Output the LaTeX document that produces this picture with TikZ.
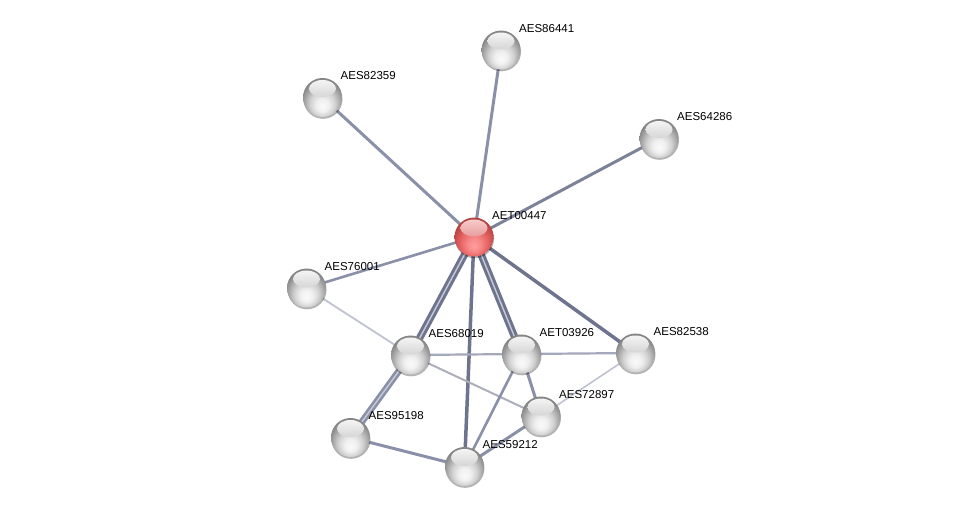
\documentclass[tikz,border=0pt]{standalone}
\usepackage{fontspec}
\setmainfont{Liberation Sans}
\usetikzlibrary{backgrounds,shadows,calc}
\definecolor{edark}{HTML}{6E748E}
\definecolor{emid}{HTML}{8A90A8}
\definecolor{elight}{HTML}{A3A8BA}
\definecolor{efaint}{HTML}{BFC2CF}
\definecolor{gband}{HTML}{A9A9A9}
\definecolor{rband}{HTML}{CC6064}
\pgfdeclareradialshading{stringgrey}{\pgfpoint{0bp}{-12bp}}{%
  color(0bp)=(white!98!black); color(8bp)=(white!94!black); color(16bp)=(white!82!black);
  color(24bp)=(white!62!black); color(28bp)=(white!52!black); color(50bp)=(white!52!black)}
\pgfdeclareradialshading{stringred}{\pgfpoint{0bp}{-12bp}}{%
  color(0bp)=(red!38!white); color(8bp)=(red!44!white!97!black); color(16bp)=(red!55!white!92!black);
  color(24bp)=(red!62!white!80!black); color(28bp)=(red!62!white!70!black); color(50bp)=(red!62!white!70!black)}
\tikzset{
  ball/.style={circle, minimum size=39pt, inner sep=0pt, shading=stringgrey,
    drop shadow={shadow xshift=0.5pt, shadow yshift=-1.8pt, opacity=0.3, fill=black},
    path picture={\shade[top color=white, bottom color=gband, opacity=0.95]
      ($(path picture bounding box.center)+(0,-9)$) ellipse (13.5pt and 8.5pt);}},
  redball/.style={circle, minimum size=39pt, inner sep=0pt, shading=stringred,
    drop shadow={shadow xshift=0.5pt, shadow yshift=-1.8pt, opacity=0.3, fill=black},
    path picture={\shade[top color=red!15!white, bottom color=rband, opacity=0.95]
      ($(path picture bounding box.center)+(0,-9)$) ellipse (13.5pt and 8.5pt);}},
  lbl/.style={anchor=west, inner sep=0pt, font=\fontsize{11.5pt}{13pt}\selectfont, text=black},
  ed/.style={line width=#1, line cap=round},
}
\begin{document}
\begin{tikzpicture}[x=1pt,y=-1pt]
\useasboundingbox (0,0) rectangle (976,511);
% nodes
\node[redball] (c) at (474,237) {};
\node[ball] (n86441) at (501,50) {};
\node[ball] (n82359) at (322.5,97.5) {};
\node[ball] (n64286) at (659,138.5) {};
\node[ball] (n76001) at (306.5,288) {};
\node[ball] (n68019) at (410.5,355) {};
\node[ball] (n03926) at (521.5,354) {};
\node[ball] (n82538) at (635.5,353) {};
\node[ball] (n72897) at (541,416) {};
\node[ball] (n95198) at (350.5,437.5) {};
\node[ball] (n59212) at (464.5,466.5) {};
% labels
\node[lbl] (lc) at ($(c)+(18,-21.5)$) {AET00447};
\node[lbl] (l86441) at ($(n86441)+(18,-21.5)$) {AES86441};
\node[lbl] (l82359) at ($(n82359)+(18,-21.5)$) {AES82359};
\node[lbl] (l64286) at ($(n64286)+(18,-21.5)$) {AES64286};
\node[lbl] (l76001) at ($(n76001)+(18,-21.5)$) {AES76001};
\node[lbl] (l68019) at ($(n68019)+(18,-21.5)$) {AES68019};
\node[lbl] (l03926) at ($(n03926)+(18,-21.5)$) {AET03926};
\node[lbl] (l82538) at ($(n82538)+(18,-21.5)$) {AES82538};
\node[lbl] (l72897) at ($(n72897)+(18,-21.5)$) {AES72897};
\node[lbl] (l95198) at ($(n95198)+(18,-21.5)$) {AES95198};
\node[lbl] (l59212) at ($(n59212)+(18,-21.5)$) {AES59212};
% edges
\begin{scope}[on background layer]
\draw[ed=3pt, emid] (c.center) -- (n86441.center);
\draw[ed=3pt, emid] (c.center) -- (n82359.center);
\draw[ed=3pt, emid!90!black] (c.center) -- (n64286.center);
\draw[ed=2.6pt, emid] (c.center) -- (n76001.center);
\draw[ed=3.5pt, edark] (c.center) -- (n59212.center);
\draw[ed=3.5pt, edark] (c.center) -- (n82538.center);
\draw[ed=3pt, edark, double=elight!60!white, double distance=1.4pt] (c.center) -- (n68019.center);
\draw[ed=3pt, edark, double=elight!60!white, double distance=1.4pt] (c.center) -- (n03926.center);
\draw[ed=1.8pt, efaint] (n76001.center) -- (n68019.center);
\draw[ed=2.2pt, elight] (n68019.center) -- (n03926.center);
\draw[ed=2.2pt, elight] (n03926.center) -- (n82538.center);
\draw[ed=2pt, efaint!90!black] (n68019.center) -- (n72897.center);
\draw[ed=2.6pt, emid, double=elight!60!white, double distance=1.4pt] (n68019.center) -- (n95198.center);
\draw[ed=3pt, emid] (n95198.center) -- (n59212.center);
\draw[ed=2.6pt, emid] (n03926.center) -- (n59212.center);
\draw[ed=3pt, emid] (n03926.center) -- (n72897.center);
\draw[ed=3pt, emid] (n72897.center) -- (n59212.center);
\draw[ed=1.6pt, efaint] (n82538.center) -- (n72897.center);
\end{scope}
\end{tikzpicture}
\end{document}
